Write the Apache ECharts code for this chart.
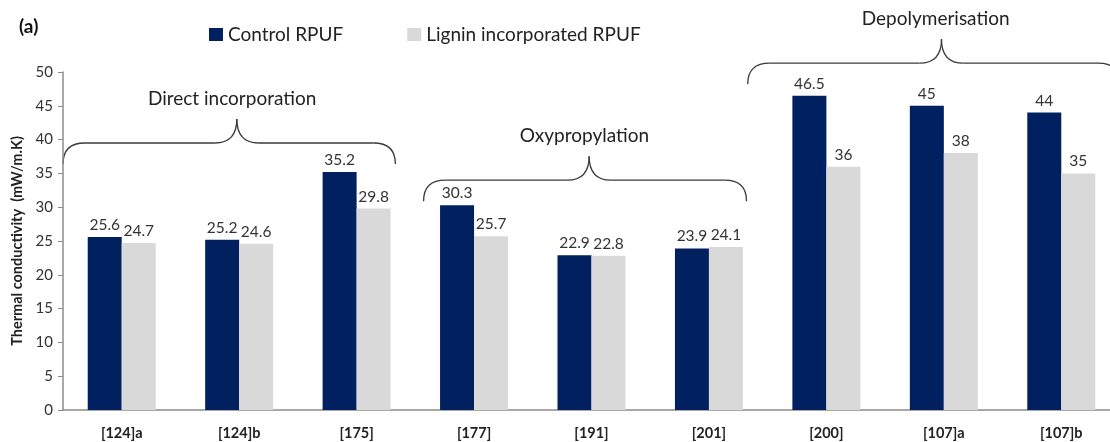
<!DOCTYPE html>
<html><head><meta charset="utf-8">
<script src="https://cdn.jsdelivr.net/npm/echarts@6/dist/echarts.min.js"></script>
<style>html,body{margin:0;padding:0;background:#fff;overflow:hidden}#c{width:1125px;height:442px}</style>
</head><body><div id="c"></div>
<script>
const categories = ['[124]a','[124]b','[175]','[177]','[191]','[201]','[200]','[107]a','[107]b'];
const controlRPUF = [25.6,25.2,35.2,30.3,22.9,23.9,46.5,45,44];
const ligninRPUF = [24.7,24.6,29.8,25.7,22.8,24.1,36,38,35];
const yTicks = {min:0, max:50, interval:5};
// annotation braces: category positions (fractional) and line level in data units
const braceNames = ['Direct incorporation','Oxypropylation','Depolymerisation'];
const braceStart = [-0.5, 2.57, 5.33];
const braceTip = [0.98, 3.98, 6.98];
const braceEnd = [2.33, 5.32, 8.5];
const braceLevel = [39.5, 34.0, 51.3];
const braceLabelX = [0.94, 3.94, 6.93];

const FONT = 'Lato';
const chart = echarts.init(document.getElementById('c'));
const lbl = {show:true, position:'top', distance:4, fontSize:15.5, color:'#333', fontFamily:FONT};
chart.setOption({
  animation:false,
  textStyle:{fontFamily:FONT},
  title:{text:'(a)', left:14, top:12, textStyle:{fontSize:19, fontWeight:'bold', color:'#111', fontFamily:FONT}},
  legend:{top:20, left:204, itemWidth:14, itemHeight:13, itemGap:64, icon:'rect',
    textStyle:{fontSize:19, color:'#222', fontFamily:FONT}},
  grid:{left:63, top:72, right:5, bottom:32},
  xAxis:{type:'category', data:categories,
    axisLine:{lineStyle:{color:'#8c8c8c', width:1.5}}, axisTick:{show:false},
    axisLabel:{fontSize:14.5, fontWeight:'bold', color:'#222', margin:16, fontFamily:FONT}},
  yAxis:{type:'value', min:yTicks.min, max:yTicks.max, interval:yTicks.interval,
    name:'Thermal conductivity  (mW/m.K)', nameLocation:'middle', nameGap:37,
    nameTextStyle:{fontSize:14.5, fontWeight:'bold', color:'#222', fontFamily:FONT},
    axisLine:{show:true, lineStyle:{color:'#8c8c8c', width:1.5}},
    axisTick:{show:true, inside:false, length:5, lineStyle:{color:'#8c8c8c'}},
    splitLine:{show:false},
    axisLabel:{fontSize:15, color:'#333', margin:10, fontFamily:FONT}},
  series:[
    {name:'Control RPUF', type:'bar', data:controlRPUF, barWidth:34, barGap:'0%',
     itemStyle:{color:'#002060'}, label:lbl},
    {name:'Lignin incorporated RPUF', type:'bar', data:ligninRPUF, barWidth:34,
     itemStyle:{color:'#D9D9D9'}, label:lbl}
  ]
});

function buildBraces(){
  const x0 = chart.convertToPixel({xAxisIndex:0}, 0);
  const cw = chart.convertToPixel({xAxisIndex:0}, 1) - x0;
  const px = c => x0 + c*cw;
  const els = [];
  const st = {fill:null, stroke:'#3a3a3a', lineWidth:1.3};
  for (let i=0;i<braceNames.length;i++){
    const a = px(braceStart[i]), m = px(braceTip[i]), b = px(braceEnd[i]);
    const yl = chart.convertToPixel({yAxisIndex:0}, braceLevel[i]);
    const yEnd = yl + 21, yTip = yl - 24, r = 22;
    els.push({type:'bezierCurve', shape:{x1:a,y1:yEnd,cpx1:a,cpy1:yl,x2:a+r,y2:yl}, style:st, silent:true});
    els.push({type:'line', shape:{x1:a+r,y1:yl,x2:m-r,y2:yl}, style:st, silent:true});
    els.push({type:'bezierCurve', shape:{x1:m-r,y1:yl,cpx1:m,cpy1:yl,x2:m,y2:yTip}, style:st, silent:true});
    els.push({type:'bezierCurve', shape:{x1:m,y1:yTip,cpx1:m,cpy1:yl,x2:m+r,y2:yl}, style:st, silent:true});
    els.push({type:'line', shape:{x1:m+r,y1:yl,x2:b-r,y2:yl}, style:st, silent:true});
    els.push({type:'bezierCurve', shape:{x1:b-r,y1:yl,cpx1:b,cpy1:yl,x2:b,y2:yEnd}, style:st, silent:true});
    els.push({type:'text', x:px(braceLabelX[i]), y:yTip-20, style:{text:braceNames[i], fontSize:19, fill:'#222', fontFamily:FONT, textAlign:'center', textVerticalAlign:'middle'}, silent:true});
  }
  chart.setOption({graphic:els});
}
buildBraces();
</script></body></html>
